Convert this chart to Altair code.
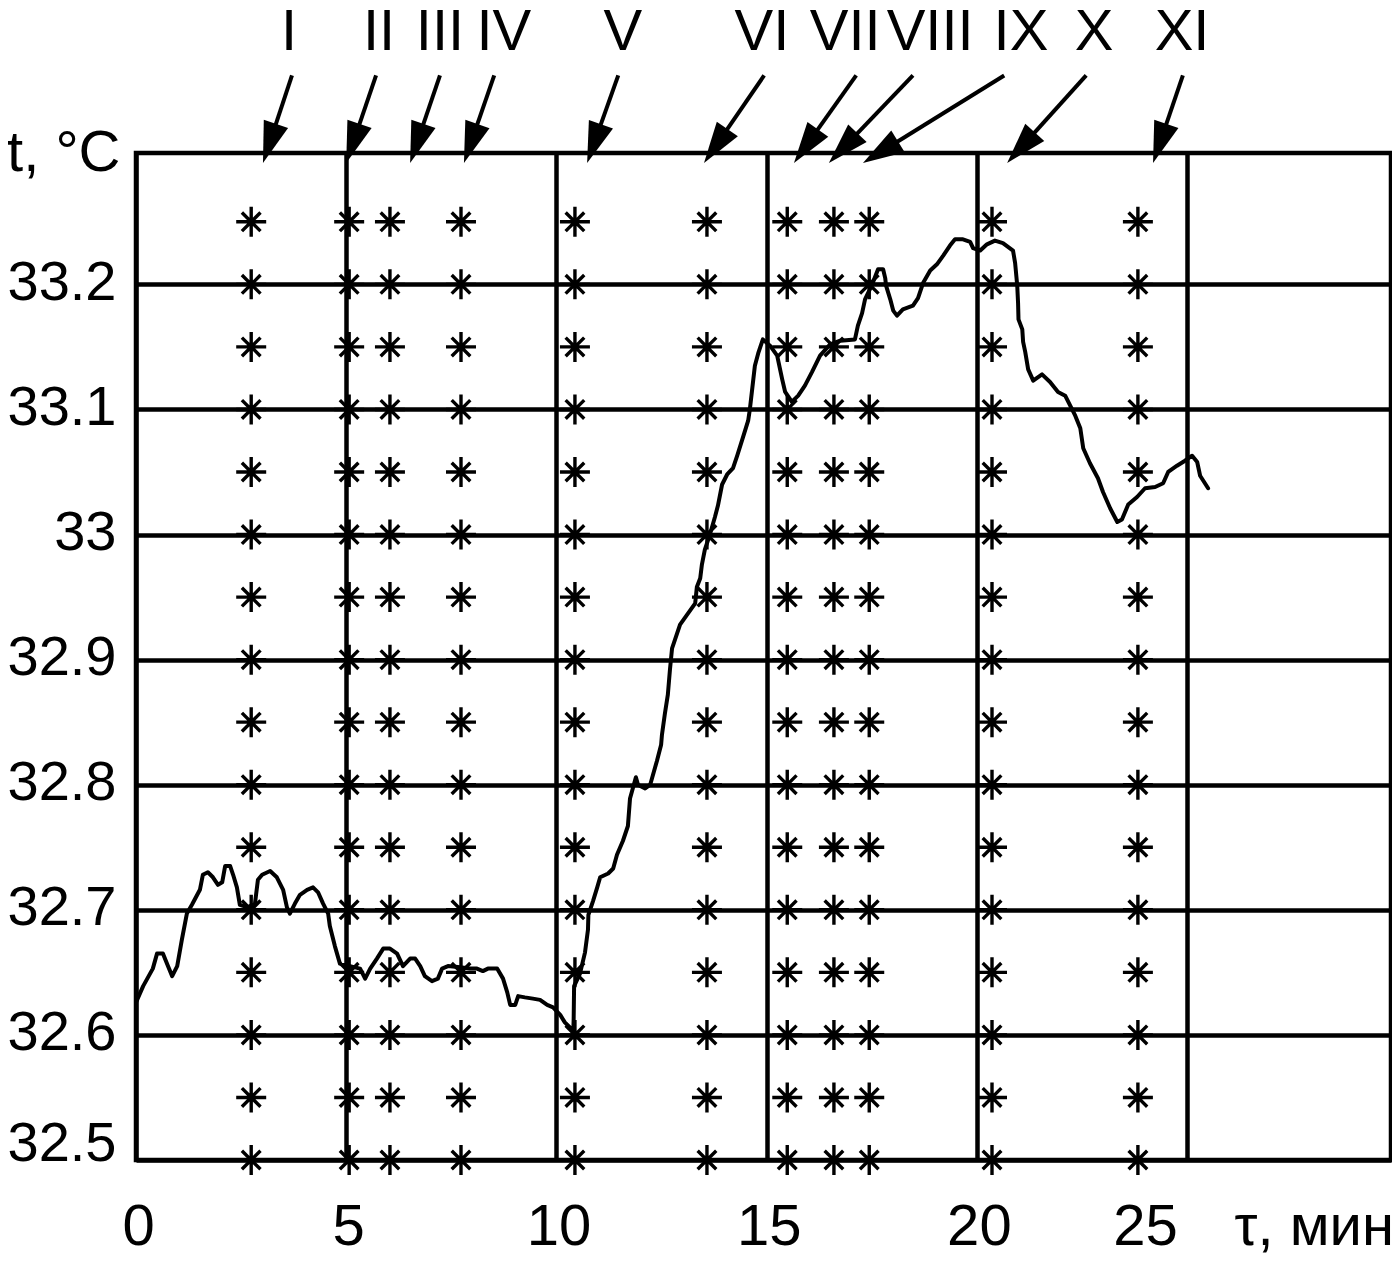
import math
import altair as alt
import pandas as pd

# ---------------- data ----------------
curve_tau = [
    0.00, 0.17, 0.40, 0.50, 0.64, 0.76, 0.86, 0.98, 1.09, 1.21,
    1.33, 1.52, 1.59, 1.71, 1.83, 1.95, 2.05, 2.12, 2.24, 2.31,
    2.40, 2.47, 2.66, 2.83, 2.90, 3.00, 3.19, 3.35, 3.50, 3.59,
    3.66, 3.78, 3.90, 4.07, 4.21, 4.33, 4.45, 4.57, 4.61, 4.73,
    4.85, 5.09, 5.33, 5.45, 5.57, 5.73, 5.88, 6.04, 6.21, 6.35,
    6.52, 6.64, 6.76, 6.87, 7.04, 7.18, 7.28, 7.42, 7.71, 7.94,
    8.11, 8.25, 8.37, 8.59, 8.73, 8.83, 8.90, 9.02, 9.09, 9.25,
    9.44, 9.61, 9.78, 9.92, 10.09, 10.20, 10.32, 10.40, 10.41, 10.42,
    10.56, 10.68, 10.75, 10.76, 10.87, 10.97, 11.04, 11.23, 11.35, 11.44,
    11.58, 11.70, 11.75, 11.89, 11.94, 12.11, 12.23, 12.39, 12.49, 12.51,
    12.58, 12.65, 12.70, 12.75, 12.82, 12.94, 13.13, 13.30, 13.34, 13.42,
    13.46, 13.53, 13.65, 13.77, 13.84, 13.94, 14.06, 14.20, 14.30, 14.44,
    14.56, 14.60, 14.72, 14.80, 14.91, 15.08, 15.25, 15.37, 15.44, 15.60,
    15.75, 15.91, 16.08, 16.27, 16.51, 16.75, 17.10, 17.17, 17.27, 17.34,
    17.51, 17.65, 17.77, 17.82, 17.84, 17.94, 18.01, 18.10, 18.24, 18.48,
    18.60, 18.72, 18.89, 19.05, 19.20, 19.36, 19.48, 19.67, 19.84, 19.91,
    20.08, 20.24, 20.43, 20.62, 20.86, 20.91, 20.96, 20.98, 20.99, 21.08,
    21.10, 21.15, 21.22, 21.34, 21.55, 21.74, 21.93, 22.10, 22.22, 22.34,
    22.46, 22.53, 22.69, 22.88, 23.00, 23.17, 23.34, 23.45, 23.60, 23.81,
    24.00, 24.24, 24.43, 24.55, 24.76, 24.95, 25.12, 25.24, 25.31, 25.50,
]
curve_t = [
    32.626, 32.639, 32.653, 32.665, 32.665, 32.655, 32.647, 32.655, 32.676, 32.697,
    32.704, 32.716, 32.728, 32.730, 32.726, 32.720, 32.722, 32.735, 32.735, 32.728,
    32.718, 32.704, 32.702, 32.705, 32.724, 32.728, 32.731, 32.726, 32.716, 32.702,
    32.697, 32.705, 32.712, 32.716, 32.718, 32.714, 32.705, 32.697, 32.687, 32.671,
    32.657, 32.655, 32.653, 32.645, 32.653, 32.661, 32.669, 32.669, 32.665, 32.655,
    32.661, 32.661, 32.655, 32.647, 32.643, 32.645, 32.653, 32.655, 32.654, 32.653,
    32.653, 32.651, 32.653, 32.653, 32.645, 32.634, 32.624, 32.624, 32.631, 32.630,
    32.629, 32.628, 32.624, 32.622, 32.616, 32.610, 32.606, 32.602, 32.613, 32.639,
    32.649, 32.666, 32.684, 32.696, 32.707, 32.718, 32.726, 32.729, 32.733, 32.744,
    32.755, 32.767, 32.789, 32.806, 32.800, 32.797, 32.800, 32.819, 32.832, 32.840,
    32.857, 32.872, 32.892, 32.909, 32.916, 32.928, 32.937, 32.945, 32.958, 32.965,
    32.976, 32.988, 33.000, 33.014, 33.023, 33.040, 33.048, 33.053, 33.063, 33.078,
    33.091, 33.100, 33.135, 33.145, 33.156, 33.151, 33.143, 33.124, 33.114, 33.106,
    33.111, 33.119, 33.130, 33.143, 33.152, 33.155, 33.156, 33.167, 33.177, 33.188,
    33.200, 33.212, 33.212, 33.205, 33.199, 33.188, 33.179, 33.175, 33.180, 33.183,
    33.189, 33.201, 33.211, 33.216, 33.223, 33.231, 33.236, 33.236, 33.234, 33.229,
    33.227, 33.232, 33.235, 33.233, 33.227, 33.217, 33.199, 33.185, 33.172, 33.164,
    33.154, 33.146, 33.132, 33.123, 33.128, 33.122, 33.114, 33.111, 33.103, 33.095,
    33.085, 33.069, 33.057, 33.045, 33.034, 33.021, 33.010, 33.012, 33.024, 33.030,
    33.037, 33.038, 33.041, 33.050, 33.055, 33.059, 33.063, 33.058, 33.047, 33.037,
]
assert len(curve_tau) == len(curve_t)

# measurement columns (asterisks)
star_tau = [2.74, 5.07, 6.04, 7.73, 10.44, 13.58, 15.49, 16.60, 17.44, 20.36, 23.83]
star_t = [32.50, 32.55, 32.60, 32.65, 32.70, 32.75, 32.80, 32.85,
          32.90, 32.95, 33.00, 33.05, 33.10, 33.15, 33.20, 33.25]

# roman labels and arrows above the plot
roman = ["I", "II", "III", "IV", "V", "VI", "VII", "VIII", "IX", "X", "XI"]
label_tau = [3.64, 5.78, 7.23, 8.75, 11.58, 14.89, 16.87, 18.89, 21.05, 22.79, 24.88]
arrow_tail_tau = [3.71, 5.71, 7.23, 8.52, 11.47, 14.94, 17.13, 18.48, 20.65, 22.60, 24.90]
arrow_tip_tau = [3.02, 5.00, 6.52, 7.80, 10.73, 13.51, 15.65, 16.48, 17.29, 20.72, 24.19]
LABEL_T = 33.387
ARROW_TAIL_T = 33.367
ARROW_TIP_T = 33.297

x_ticks = [0, 5, 10, 15, 20, 25]
y_ticks = [32.5, 32.6, 32.7, 32.8, 32.9, 33.0, 33.1, 33.2]

# ---------------- layout ----------------
W, H = 1255, 1007
X_DOM = [0, 29.85]
Y_DOM = [32.5, 33.305]
PX_PER_MIN = W / (X_DOM[1] - X_DOM[0])
PX_PER_DEG = H / (Y_DOM[1] - Y_DOM[0])
FONT = "Liberation Sans, Arial, sans-serif"
FS = 58

curve_df = pd.DataFrame({"tau": curve_tau, "t": curve_t, "idx": range(len(curve_tau))})
stars_df = pd.DataFrame([{"tau": a, "t": b} for a in star_tau for b in star_t])
labels_df = pd.DataFrame({"tau": label_tau, "t": [LABEL_T] * len(roman), "roman": roman})

rows = []
for tail, tip in zip(arrow_tail_tau, arrow_tip_tau):
    dx = (tip - tail) * PX_PER_MIN
    dy = (ARROW_TAIL_T - ARROW_TIP_T) * PX_PER_DEG  # downwards on screen
    ang = (math.degrees(math.atan2(dx, -dy)) + 360) % 360
    length = math.hypot(dx, dy)
    f = 20.0 / length
    rows.append({
        "tail_tau": tail, "tail_t": ARROW_TAIL_T,
        "tip_tau": tip, "tip_t": ARROW_TIP_T,
        "end_tau": tip + (tail - tip) * f,
        "end_t": ARROW_TIP_T + (ARROW_TAIL_T - ARROW_TIP_T) * f,
        "angle": ang,
    })
arrows_df = pd.DataFrame(rows)

xs = alt.Scale(domain=X_DOM, nice=False, zero=False)
ys = alt.Scale(domain=Y_DOM, nice=False, zero=False)

x_axis = alt.Axis(
    values=x_ticks, grid=True, gridColor="black", gridWidth=4.5, gridOpacity=1,
    ticks=False, tickSize=0, domain=False,
    labelFont=FONT, labelFontSize=FS, labelColor="black", labelBaseline="alphabetic",
    labelPadding=84, labelFlush=False, labelOverlap=False,
    labelOffset={"condition": {"test": "datum.value == 25", "value": -42}, "value": 2},
    title="τ, мин", titleFont=FONT, titleFontSize=FS, titleFontWeight="normal",
    titleColor="black", titleAlign="left", titleBaseline="alphabetic",
    titleX=1098, titleY=84,
)
y_axis = alt.Axis(
    values=y_ticks, grid=True, gridColor="black", gridWidth=4.5, gridOpacity=1,
    ticks=False, tickSize=0, domain=False, format=".1~f",
    labelFont=FONT, labelFontSize=56, labelColor="black", labelBaseline="alphabetic",
    labelPadding=20, labelFlush=False, labelOverlap=False,
    labelOffset={"condition": {"test": "datum.value < 32.55", "value": 0}, "value": 15},
    title="t, °C", titleFont=FONT, titleFontSize=FS, titleFontWeight="normal",
    titleColor="black", titleAngle=0, titleAlign="right", titleBaseline="alphabetic",
    titleX=-16, titleY=17,
)

ASTERISK = "M-1,0L1,0M0,-1L0,1M-0.62,-0.62L0.62,0.62M-0.62,0.62L0.62,-0.62"
HEAD = "M0,0L-0.62,2L0.62,2Z"

stars = alt.Chart(stars_df).mark_point(
    shape=ASTERISK, size=900, filled=False, stroke="black", strokeWidth=3.4, opacity=1
).encode(
    x=alt.X("tau:Q", scale=xs, axis=x_axis),
    y=alt.Y("t:Q", scale=ys, axis=y_axis),
)

curve = alt.Chart(curve_df).mark_line(
    color="black", strokeWidth=4, strokeJoin="round", strokeCap="round"
).encode(
    x=alt.X("tau:Q", scale=xs, axis=x_axis),
    y=alt.Y("t:Q", scale=ys, axis=y_axis),
    order="idx:Q",
)

shafts = alt.Chart(arrows_df).mark_rule(color="black", strokeWidth=4).encode(
    x=alt.X("tail_tau:Q", scale=xs, axis=x_axis),
    y=alt.Y("tail_t:Q", scale=ys, axis=y_axis),
    x2="end_tau:Q",
    y2="end_t:Q",
)

heads = alt.Chart(arrows_df).mark_point(
    shape=HEAD, size=1700, filled=True, fill="black", strokeWidth=0, opacity=1
).encode(
    x=alt.X("tip_tau:Q", scale=xs, axis=x_axis),
    y=alt.Y("tip_t:Q", scale=ys, axis=y_axis),
    angle=alt.Angle("angle:Q", scale=None),
)

labels = alt.Chart(labels_df).mark_text(
    font=FONT, fontSize=FS, baseline="alphabetic", align="center", color="black"
).encode(
    x=alt.X("tau:Q", scale=xs, axis=x_axis),
    y=alt.Y("t:Q", scale=ys, axis=y_axis),
    text="roman:N",
)

chart = alt.layer(stars, curve, shafts, heads, labels).properties(
    width=W, height=H,
    autosize=alt.AutoSizeParams(type="none"),
    padding={"left": 128, "top": 145, "right": 1, "bottom": 93},
).configure_view(stroke="black", strokeWidth=4.5)

chart.save("out.html", embed_options={"renderer": "svg", "actions": False})
